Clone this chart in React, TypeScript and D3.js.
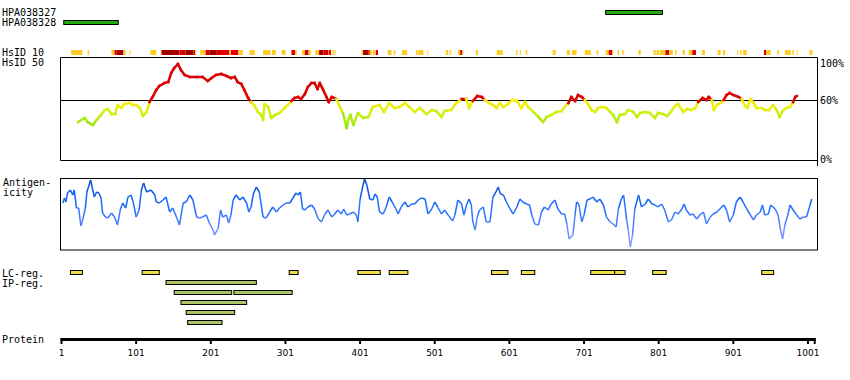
import React from "react";
import * as d3 from "d3";

const proteinLength = 1010;
const tickValues = [1, 101, 201, 301, 401, 501, 601, 701, 801, 901, 1001];

const hpaNames = ["HPA038327", "HPA038328"];
const hpaStart = [730, 4];
const hpaEnd = [806, 77];

// HsID 10 strip: level 0 = low (orange), 1 = mid (red), 2 = high (dark red)
const hsidStart = [14, 36, 68, 72, 75, 84, 92, 120, 134, 135, 159, 167, 178, 180, 187, 194, 199, 209, 226, 228, 238, 253, 271, 283, 296, 309, 314, 323, 327, 330, 332, 341, 346, 347, 352, 358, 359, 364, 367, 403, 405, 412, 414, 418, 422, 438, 446, 457, 476, 479, 491,
  516, 521, 532, 535, 538, 556, 584, 610, 615, 623, 659, 678, 685, 702, 718, 730, 734, 739, 746, 752, 774, 794, 798, 803, 810, 815, 823, 833, 841, 846, 859, 880, 887, 906, 910, 914, 942, 945, 960, 970, 980, 986, 1003];
const hsidEnd = [29, 38, 72, 75, 84, 87, 93, 128, 135, 159, 167, 178, 180, 181, 194, 199, 209, 226, 228, 238, 244, 260, 281, 288, 301, 314, 316, 327, 330, 332, 335, 346, 347, 352, 358, 359, 362, 366, 368, 405, 412, 414, 417, 421, 425, 443, 448, 464, 478, 486, 492,
  519, 523, 535, 538, 539, 559, 592, 612, 616, 625, 663, 682, 691, 710, 720, 734, 739, 740, 748, 754, 777, 797, 802, 810, 815, 820, 825, 836, 846, 851, 863, 884, 890, 907, 912, 919, 945, 951, 962, 978, 982, 987, 1007];
const hsidLevel = [0, 0, 0, 1, 2, 0, 0, 0, 0, 2, 1, 2, 1, 0, 0, 1, 2, 1, 0, 1, 0, 0, 0, 0, 0, 1, 0, 0, 1, 2, 0, 0, 1, 2, 1, 0, 1, 0, 0, 0, 2, 1, 0, 0, 1, 0, 0, 0, 0, 0, 0,
  0, 0, 0, 1, 0, 0, 0, 0, 0, 0, 0, 0, 0, 0, 0, 0, 1, 0, 0, 0, 0, 0, 0, 0, 1, 0, 0, 0, 0, 1, 0, 0, 0, 0, 0, 0, 1, 0, 0, 0, 0, 0, 0];

// HsID 50 similarity (%)
const simPos = [23, 32, 36, 43, 48, 54, 59, 63, 68, 73, 76, 81, 85, 92, 97, 101, 106, 110, 115, 119, 123, 128, 132, 139, 144, 148, 152, 157, 161, 166, 173, 182, 190, 197, 202, 208, 215, 222, 228, 233, 237, 242, 246, 251, 255, 260, 264, 269, 271, 273, 278, 282, 287, 293, 300, 304, 309, 313, 318, 322, 327, 331, 336, 340, 344, 347, 351, 356, 359, 363, 369, 374, 378, 383, 385, 388, 392, 398, 405, 412, 418, 427, 433, 440, 447, 454, 461, 467, 474, 481, 490, 497, 503, 510, 514, 523, 530, 537, 543, 547, 552, 558, 564, 568, 574, 579, 584, 588, 593, 599, 605, 611, 617, 622, 626, 633, 640, 646, 651, 657, 664, 671, 675, 680, 684, 689, 693, 698, 702, 707, 711, 716, 720, 724, 731, 736, 740, 745, 749, 756, 760, 767, 772, 776, 783, 789, 796, 800, 807, 812, 817, 823, 827, 834, 839, 845, 850, 854, 860, 865, 868, 872, 875, 879, 884, 888, 892, 896, 901, 908, 912, 917, 920, 924, 928, 932, 939, 943, 949, 954, 959, 963, 967, 972, 977, 981, 984, 986];
const simVal = [38, 42, 38, 35, 40, 45, 50, 51, 46, 46, 55, 52, 56, 57, 55, 55, 52, 44, 48, 58, 63, 70, 74, 77, 78, 87, 92, 96, 90, 85, 83, 83, 83, 79, 82, 85, 86, 84, 82, 83, 78, 76, 70, 62, 58, 54, 48, 45, 40, 56, 53, 42, 45, 47, 52, 55, 59, 62, 63, 61, 66, 73, 77, 77, 71, 77, 71, 63, 58, 63, 61, 53, 47, 32, 40, 45, 35, 47, 42, 43, 53, 55, 48, 57, 52, 53, 57, 53, 48, 52, 46, 50, 49, 43, 49, 50, 57, 61, 61, 52, 59, 64, 63, 60, 57, 55, 52, 57, 53, 56, 60, 59, 52, 58, 53, 48, 43, 38, 43, 45, 48, 49, 53, 57, 63, 59, 65, 63, 60, 55, 50, 48, 52, 53, 52, 48, 45, 38, 45, 46, 50, 48, 43, 47, 48, 47, 42, 47, 46, 44, 48, 54, 56, 48, 51, 50, 52, 58, 62, 60, 63, 60, 50, 55, 57, 60, 65, 67, 65, 63, 61, 54, 52, 61, 57, 52, 52, 50, 50, 55, 50, 43, 49, 52, 53, 58, 63, 64];

// Antigenicity (relative score)
const antPos = [3, 5, 7, 9, 13, 16, 18, 21, 24, 26, 27, 30, 33, 35, 38, 40, 42, 45, 48, 51, 54, 56, 60, 63, 68, 72, 76, 80, 83, 87, 90, 94, 97, 101, 105, 108, 111, 115, 121, 126, 128, 132, 137, 141, 146, 150, 155, 159, 164, 168, 173, 177, 182, 186, 190, 195, 199, 204, 206, 211, 214, 217, 222, 225, 228, 231, 235, 240, 244, 249, 252, 255, 258, 262, 266, 271, 275, 280, 284, 289, 293, 298, 302, 307, 311, 315, 318, 321, 324, 327, 331, 336, 340, 345, 349, 354, 358, 363, 367, 371, 376, 379, 383, 387, 392, 396, 398, 401, 405, 407, 410, 414, 418, 421, 424, 427, 432, 436, 440, 444, 449, 452, 456, 461, 465, 470, 474, 479, 483, 488, 492, 497, 501, 505, 510, 514, 519, 525, 528, 532, 537, 540, 544, 547, 550, 552, 555, 558, 561, 566, 570, 575, 579, 583, 586, 589, 593, 597, 602, 606, 611, 615, 619, 624, 628, 631, 635, 640, 644, 648, 653, 657, 662, 666, 671, 675, 678, 681, 686, 689, 691, 694, 698, 701, 705, 709, 713, 718, 722, 727, 731, 736, 740, 744, 747, 751, 754, 758, 760, 763, 766, 769, 774, 778, 783, 787, 792, 796, 800, 805, 809, 814, 818, 823, 827, 832, 835, 838, 843, 847, 852, 856, 861, 865, 870, 874, 879, 883, 888, 892, 896, 901, 905, 910, 914, 919, 923, 928, 932, 937, 940, 943, 948, 951, 957, 961, 964, 967, 970, 974, 977, 981, 986, 990, 995, 999, 1003, 1006];
const antVal = [47, 52, 48, 57, 60, 55, 60, 42, 42, 30, 24, 32, 42, 58, 65, 70, 63, 53, 58, 57, 52, 37, 33, 32, 37, 33, 25, 41, 47, 42, 53, 55, 48, 33, 40, 60, 67, 58, 60, 55, 48, 47, 50, 53, 38, 42, 33, 25, 47, 48, 55, 50, 33, 32, 33, 35, 27, 20, 15, 22, 40, 33, 35, 27, 35, 50, 55, 50, 53, 47, 38, 43, 56, 63, 58, 33, 32, 38, 43, 38, 42, 45, 47, 47, 52, 57, 55, 58, 41, 40, 43, 45, 41, 31, 28, 36, 40, 33, 36, 40, 36, 41, 35, 36, 38, 35, 28, 51, 65, 71, 65, 51, 50, 56, 53, 38, 36, 43, 53, 48, 41, 36, 43, 48, 43, 46, 46, 50, 52, 51, 36, 41, 48, 43, 36, 40, 35, 29, 35, 50, 46, 35, 46, 51, 45, 28, 20, 33, 40, 43, 28, 28, 53, 58, 63, 56, 55, 48, 41, 36, 43, 51, 48, 46, 45, 35, 26, 25, 38, 43, 40, 46, 50, 41, 36, 36, 26, 11, 15, 35, 48, 46, 28, 35, 50, 51, 53, 48, 51, 45, 33, 28, 26, 23, 41, 51, 55, 31, 21, 3, 15, 41, 55, 43, 46, 51, 46, 45, 43, 46, 40, 28, 30, 38, 36, 41, 46, 40, 35, 36, 31, 35, 38, 26, 33, 36, 38, 41, 45, 40, 28, 35, 48, 53, 48, 41, 36, 30, 35, 38, 45, 35, 36, 45, 41, 35, 21, 11, 25, 35, 45, 40, 35, 31, 33, 33, 43, 51];

const lcStart = [13, 109, 306, 398, 440, 577, 617, 710, 742, 793, 939];
const lcEnd = [29, 132, 318, 428, 465, 599, 635, 742, 756, 811, 955];

const ipStart = [141, 152, 232, 161, 168, 170];
const ipEnd = [262, 229, 310, 249, 233, 216];
const ipRow = [0, 1, 1, 2, 3, 4];

const mono = "'DejaVu Sans Mono', monospace";
const sans = "'DejaVu Sans', sans-serif";

export default function App() {
  const W = 850;
  const H = 380;
  const x = d3.scaleLinear().domain([1, proteinLength]).range([61.5, 814.7]);
  const boxL = 60.5;
  const boxR = 817.5;

  const ySim = d3.scaleLinear().domain([0, 100]).range([160, 60]);
  const simColor = (v: number) =>
    v >= 60
      ? "#dd0000"
      : d3.scaleLinear<string>().domain([33, 42, 50, 60]).range(["#88dd11", "#b8ee11", "#ddf011", "#ffee00"]).clamp(true)(v);

  const yAnt = d3.scaleLinear().domain([0, 72]).range([250, 178]);
  const antColor = d3
    .scaleLinear<string>()
    .domain([0, 25, 45, 72])
    .range(["#a8a0ff", "#5a84ff", "#1a6cff", "#0048c0"])
    .clamp(true);

  const hsidColors = ["#ffcc22", "#e00000", "#a00000"];

  const simSegs = simPos.slice(1).map((p, i) => {
    const v0 = simVal[i];
    const v1 = simVal[i + 1];
    return { x0: x(simPos[i]), y0: ySim(v0), x1: x(p), y1: ySim(v1), c: simColor((v0 + v1) / 2) };
  });
  const antSegs = antPos.slice(1).map((p, i) => {
    const v0 = antVal[i];
    const v1 = antVal[i + 1];
    return { x0: x(antPos[i]), y0: yAnt(v0), x1: x(p), y1: yAnt(v1), c: antColor((v0 + v1) / 2) };
  });

  return (
    <div style={{ position: "absolute", left: 0, top: 0, background: "#fff" }}>
      <svg width={W} height={H} style={{ display: "block" }}>
        <rect x={0} y={0} width={W} height={H} fill="#fff" />
        {/* labels */}
        <g fontFamily={mono} fontSize={10} fill="#000">
          <text x={2} y={16}>{hpaNames[0]}</text>
          <text x={2} y={26}>{hpaNames[1]}</text>
          <text x={2} y={56}>HsID 10</text>
          <text x={2} y={66}>HsID 50</text>
          <text x={3} y={186}>Antigen-</text>
          <text x={3} y={196}>icity</text>
          <text x={2} y={277}>LC-reg.</text>
          <text x={2} y={287}>IP-reg.</text>
          <text x={2} y={343}>Protein</text>
          <text x={820} y={67}>100%</text>
          <text x={820} y={104}>60%</text>
          <text x={820} y={163}>0%</text>
        </g>

        {/* HPA antigen bars */}
        {hpaStart.map((s, i) => (
          <rect key={"hpa" + i} x={x(s)} y={10.5 + i * 10} width={x(hpaEnd[i]) - x(s)} height={4} fill="#22aa11" stroke="#000" strokeWidth={1} />
        ))}

        {/* HsID 10 strip */}
        {hsidStart.map((s, i) => (
          <rect key={"hs" + i} x={x(s)} y={50} width={Math.max(1, x(hsidEnd[i]) - x(s))} height={5} fill={hsidColors[hsidLevel[i]]} />
        ))}

        {/* similarity box */}
        <line x1={boxL} x2={boxL} y1={57.5} y2={160.5} stroke="#000" />
        <line x1={boxR} x2={boxR} y1={57.5} y2={166} stroke="#000" />
        <line x1={boxL} x2={boxR} y1={57.5} y2={57.5} stroke="#000" />
        <line x1={boxL} x2={boxR} y1={160.5} y2={160.5} stroke="#000" />
        <line x1={boxL} x2={boxR} y1={ySim(60) + 0.5} y2={ySim(60) + 0.5} stroke="#000" />
        {simSegs.map((s, i) => (
          <line key={"s" + i} x1={s.x0} y1={s.y0} x2={s.x1} y2={s.y1} stroke={s.c} strokeWidth={2.5} strokeLinecap="square" />
        ))}

        {/* antigenicity box */}
        <rect x={boxL} y={178.5} width={boxR - boxL} height={71.5} fill="none" stroke="#000" />
        {antSegs.map((s, i) => (
          <line key={"a" + i} x1={s.x0} y1={s.y0} x2={s.x1} y2={s.y1} stroke={s.c} strokeWidth={1.5} />
        ))}

        {/* LC regions */}
        {lcStart.map((s, i) => (
          <rect key={"lc" + i} x={x(s)} y={270.5} width={x(lcEnd[i]) - x(s)} height={4} fill="#eedd44" stroke="#000" />
        ))}
        {/* IP regions */}
        {ipStart.map((s, i) => (
          <rect key={"ip" + i} x={x(s)} y={280.5 + ipRow[i] * 10} width={x(ipEnd[i]) - x(s)} height={4} fill="#aac466" stroke="#000" />
        ))}

        {/* protein axis */}
        <rect x={x(1) - 1} y={338} width={x(proteinLength) - x(1) + 2} height={3} fill="#000" />
        {tickValues.map((t) => (
          <g key={"t" + t}>
            <rect x={x(t) - 1} y={338} width={2} height={6} fill="#000" />
            <text x={x(t)} y={356} textAnchor="middle" fontFamily={sans} fontSize={9} fill="#000">
              {t}
            </text>
          </g>
        ))}
        <rect x={x(proteinLength) - 1} y={338} width={2} height={6} fill="#000" />
      </svg>
    </div>
  );
}
